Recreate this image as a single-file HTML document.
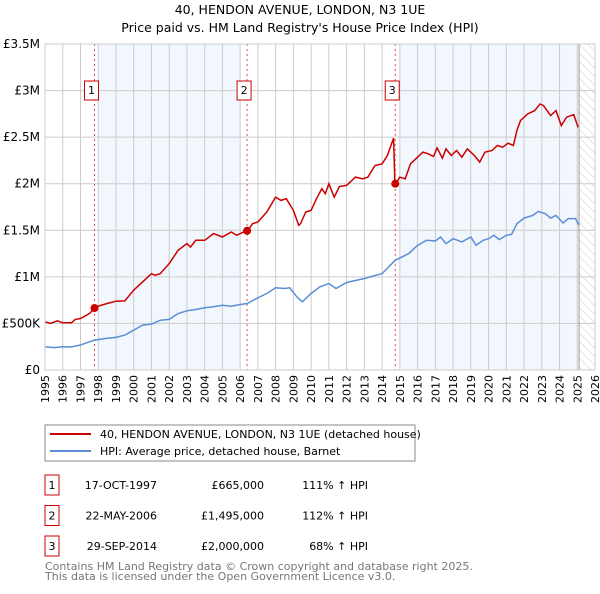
<!DOCTYPE html>
<html><head><meta charset="utf-8"><style>
body{margin:0;background:#fff;font-family:"DejaVu Sans","Liberation Sans",sans-serif}
svg text{font-family:"DejaVu Sans","Liberation Sans",sans-serif}
</style></head><body>
<svg id="c" width="600" height="590" xmlns="http://www.w3.org/2000/svg">
<defs><pattern id="hatch" width="6" height="6" patternUnits="userSpaceOnUse" patternTransform="rotate(-45)"><line x1="0" y1="0" x2="0" y2="6" stroke="#ccc" stroke-width="1"/></pattern></defs>
<text x="300" y="14" text-anchor="middle" font-size="12.5">40, HENDON AVENUE, LONDON, N3 1UE</text>
<text x="300" y="32" text-anchor="middle" font-size="12.5">Price paid vs. HM Land Registry's House Price Index (HPI)</text>
<g id="plot"></g>
<g>
<rect x="45" y="425" width="370" height="36" fill="#fff" stroke="#888"/>
<line x1="50" y1="434" x2="91" y2="434" stroke="#cc0000" stroke-width="2"/>
<text x="100" y="438" font-size="11">40, HENDON AVENUE, LONDON, N3 1UE (detached house)</text>
<line x1="50" y1="451" x2="91" y2="451" stroke="#5b8ed6" stroke-width="2"/>
<text x="100" y="455" font-size="11">HPI: Average price, detached house, Barnet</text>
</g>
<g id="table" font-size="11"></g>
<text x="45" y="570" font-size="11" fill="#777">Contains HM Land Registry data © Crown copyright and database right 2025.</text>
<text x="45" y="580" font-size="11" fill="#777">This data is licensed under the Open Government Licence v3.0.</text>
</svg>
<script>
const hpiYears=[1995,1995.5,1996,1996.5,1997,1997.5,1997.8,1998.5,1999,1999.5,2000,2000.5,2001,2001.5,2002,2002.5,2003,2003.5,2004,2004.5,2005,2005.5,2006,2006.4,2007,2007.5,2008,2008.5,2008.8,2009.2,2009.5,2010,2010.5,2011,2011.4,2012,2013,2014,2014.74,2015.5,2016,2016.5,2017,2017.3,2017.6,2018,2018.5,2019,2019.3,2019.7,2020,2020.3,2020.6,2021,2021.3,2021.6,2022,2022.5,2022.8,2023.2,2023.5,2023.8,2024.2,2024.5,2024.9,2025.1];
const hpiValues=[250,240,250,248,268,303,321,340,350,375,428,482,493,535,543,607,636,650,668,678,696,685,703,714,775,821,882,875,882,785,732,821,893,928,875,939,982,1035,1178,1250,1339,1392,1385,1428,1357,1410,1375,1428,1339,1392,1410,1446,1400,1446,1457,1571,1631,1660,1703,1678,1631,1660,1578,1625,1625,1553];
const priceYears=[1995,1995.3,1995.7,1996,1996.5,1996.7,1997,1997.5,1997.79,1998,1998.5,1999,1999.5,2000,2000.5,2001,2001.2,2001.5,2002,2002.5,2003,2003.2,2003.5,2004,2004.5,2005,2005.5,2005.8,2006.2,2006.39,2006.7,2007,2007.5,2008,2008.3,2008.6,2009,2009.3,2009.4,2009.7,2010,2010.3,2010.6,2010.8,2011,2011.3,2011.6,2012,2012.5,2012.9,2013.2,2013.6,2014,2014.3,2014.65,2014.72,2014.74,2015,2015.3,2015.6,2016,2016.3,2016.6,2016.9,2017.1,2017.4,2017.6,2017.9,2018.2,2018.5,2018.8,2019.2,2019.5,2019.8,2020.2,2020.5,2020.8,2021.1,2021.4,2021.6,2021.8,2022.2,2022.6,2022.9,2023.1,2023.5,2023.8,2024.1,2024.4,2024.8,2025.05];
const priceValues=[518,500,528,507,507,543,553,607,660,685,714,739,742,857,946,1035,1017,1035,1142,1285,1357,1321,1392,1392,1464,1428,1482,1446,1482,1489,1571,1589,1696,1856,1821,1839,1714,1553,1571,1696,1714,1839,1946,1892,2000,1856,1971,1982,2071,2053,2071,2196,2214,2303,2490,2000,1989,2071,2053,2214,2285,2339,2321,2292,2385,2274,2374,2303,2357,2285,2374,2303,2232,2339,2357,2410,2392,2435,2410,2571,2678,2749,2785,2856,2839,2732,2785,2625,2714,2742,2606];
const saleYears=[1997.79,2006.39,2014.74];
const saleValues=[665,1495,2000];
const saleLabels=["1","2","3"];
const saleDates=["17-OCT-1997","22-MAY-2006","29-SEP-2014"];
const salePrices=["£665,000","£1,495,000","£2,000,000"];
const saleHpi=["111% ↑ HPI","112% ↑ HPI","68% ↑ HPI"];
const yTicks=[0,500,1000,1500,2000,2500,3000,3500];
const yTickLabels=["£0","£500K","£1M","£1.5M","£2M","£2.5M","£3M","£3.5M"];
const shadeRanges=[[1998,2006],[2015,2025]];

const X0=45,X1=595,Y0=370,Y1=44;
const xs=y=>X0+(y-1995)/31*(X1-X0);
const ys=v=>Y0-v/3500*(Y0-Y1);
const NS="http://www.w3.org/2000/svg";
const plot=document.getElementById('plot');
function mk(tag,attrs,parent){const e=document.createElementNS(NS,tag);for(const k in attrs)e.setAttribute(k,attrs[k]);(parent||plot).appendChild(e);return e;}

shadeRanges.forEach((r,i)=>{
 const e=mk('rect',{x:xs(r[0]),y:Y1,width:xs(r[1])-xs(r[0]),height:Y0-Y1,fill:'#f2f6fd'});
 
 
});
const hat=mk('rect',{x:xs(2025.1),y:Y1,width:X1-xs(2025.1),height:Y0-Y1,fill:'url(#hatch)'});


for(let yr=1995;yr<=2026;yr++){
 const g=mk('line',{x1:xs(yr),x2:xs(yr),y1:Y1,y2:Y0,stroke:'#ccc','stroke-width':1});
 
 
 const t=mk('text',{x:0,y:0,'font-size':11,transform:`translate(${xs(yr)+4},${Y0+5}) rotate(-90)`,'text-anchor':'end'});
 t.textContent=yr;
 
 
}
yTicks.forEach((v,i)=>{
 const g=mk('line',{x1:X0,x2:X1,y1:ys(v),y2:ys(v),stroke:'#ccc','stroke-width':1});
 
 
 const t=mk('text',{x:40,y:ys(v)+4,'font-size':12,'text-anchor':'end'});
 t.textContent=yTickLabels[i];
 
 
});
const endLine=mk('line',{x1:xs(2025.1),x2:xs(2025.1),y1:Y1,y2:Y0,stroke:'#999','stroke-width':1});


saleYears.forEach((yr,i)=>{
 const l=mk('line',{x1:xs(yr),x2:xs(yr),y1:Y1,y2:Y0,stroke:'#e05050','stroke-width':1,'stroke-dasharray':'2,3'});
 
 
 const bx=xs(yr)-10;
 const r=mk('rect',{x:bx,y:81,width:14,height:19,fill:'#fff',stroke:'#cc0000'});
 
 
 const t=mk('text',{x:bx+7,y:94,'font-size':11,'text-anchor':'middle'});
 t.textContent=saleLabels[i];
 
 
});
const hp=mk('path',{d:hpiYears.map((y,i)=>(i?'L':'M')+xs(y).toFixed(1)+','+ys(hpiValues[i]).toFixed(1)).join(''),fill:'none',stroke:'#5b8ed6','stroke-width':1.5});


const pp=mk('path',{d:priceYears.map((y,i)=>(i?'L':'M')+xs(y).toFixed(1)+','+ys(priceValues[i]).toFixed(1)).join(''),fill:'none',stroke:'#cc0000','stroke-width':1.5});


saleYears.forEach((yr,i)=>{
 const c=mk('circle',{cx:xs(yr),cy:ys(saleValues[i]),r:4,fill:'#cc0000'});
 
 
});
const frame=mk('rect',{x:X0,y:Y1,width:X1-X0,height:Y0-Y1,fill:'none',stroke:'#ccc'});



const tb=document.getElementById('table');
saleLabels.forEach((lab,i)=>{
 const cy=485+i*30.5;
 const r=mk('rect',{x:45,y:cy-10,width:14,height:20,fill:'#fff',stroke:'#cc0000'},tb);
 
 
 const cols=[[52,lab,'middle'],[157,saleDates[i],'end'],[264,salePrices[i],'end'],[368,saleHpi[i],'end']];
 cols.forEach((c,j)=>{
  const t=mk('text',{x:c[0],y:cy+4,'text-anchor':c[2],'font-size':11},tb);
  t.textContent=c[1];
  
  
 });
});
</script>
</body></html>
